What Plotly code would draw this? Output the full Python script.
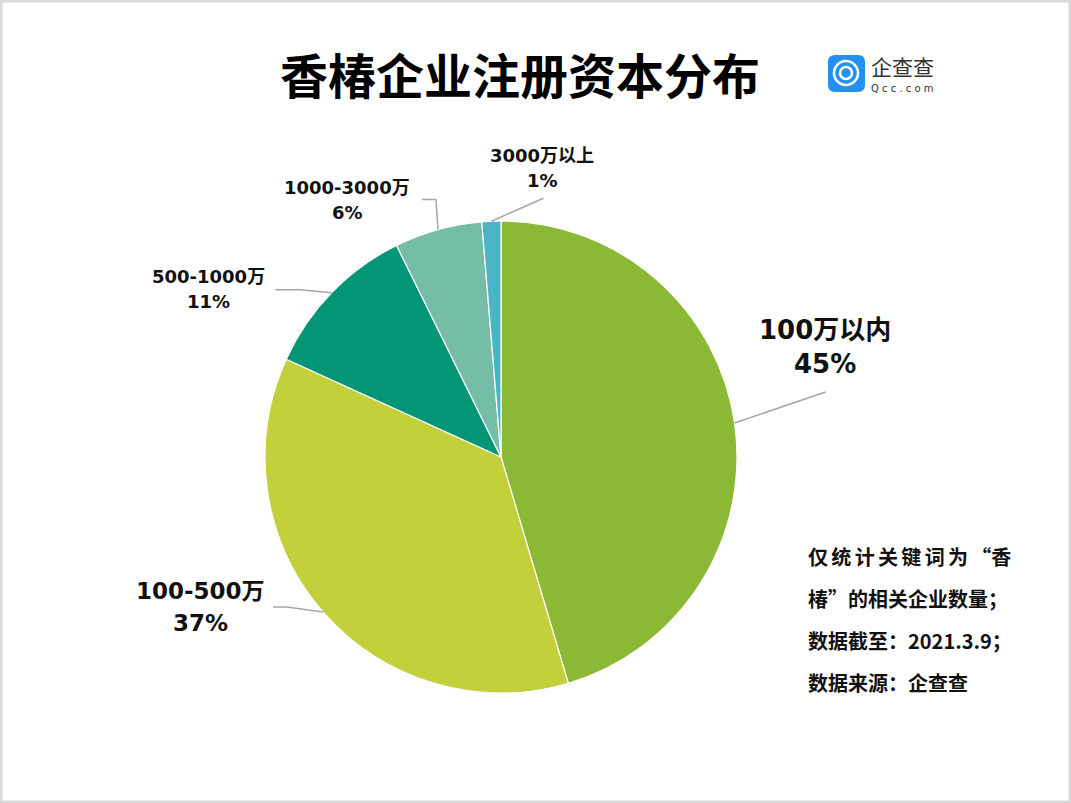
import math
import plotly.graph_objects as go

# ---- data ----
categories = ["100万以内", "100-500万", "500-1000万", "1000-3000万", "3000万以上"]
shares = [45.4, 36.4, 10.9, 6.0, 1.3]
pct_labels = ["45%", "37%", "11%", "6%", "1%"]
colors = ["#8BB835", "#C2D03B", "#039676", "#76BDA7", "#4BB4C6"]

title_text = "香椿企业注册资本分布"
notes = ["仅\u2006统\u2006计\u2006关\u2006键\u2006词\u2006为\u2006“香", "椿”的相关企业数量；", "数据截至：2021.3.9；", "数据来源：企查查"]

W, H = 1071, 803
CX, CY, R = 501, 457, 236

FONT = "Noto Sans CJK SC"
LFONT = "DejaVu Sans, Noto Sans CJK SC"

fig = go.Figure()
fig.add_trace(go.Pie(
    labels=categories, values=shares, sort=False, direction="clockwise", rotation=0,
    marker=dict(colors=colors, line=dict(color="white", width=1.2)),
    textinfo="none", hoverinfo="label+percent", showlegend=False,
    domain=dict(x=[(CX - R) / W, (CX + R) / W], y=[1 - (CY + R) / H, 1 - (CY - R) / H]),
))
# invisible pixel-space axes for annotations/shapes
fig.add_trace(go.Scatter(x=[0, W], y=[0, H], mode="markers", marker=dict(opacity=0),
                         showlegend=False, hoverinfo="skip"))

# label layout: (elbow dx, elbow dy, tail dx, text x, line1 y, line2 y, font size)
label_layout = [
    (91, -31, 0, 825, 330, 364, 26),
    (-36, -5, -14, 200, 591, 623, 23),
    (-31, -3, -25, 208, 276, 301, 18),
    (-2, -30, -14, 347, 187, 212, 18),
    (52, -23, 0, 542, 155, 180, 18),
]

total = sum(shares)
cum = 0
shapes = []
annotations = []
for i, v in enumerate(shares):
    mid = (cum + v / 2) / total * 2 * math.pi
    cum += v
    ex, ey = CX + R * math.sin(mid), CY - R * math.cos(mid)
    edx, edy, tdx, tx, y1, y2, fs = label_layout[i]
    bx, by = ex + edx, ey + edy
    path = f"M {ex:.1f},{ey:.1f} L {bx:.1f},{by:.1f}"
    if tdx:
        path += f" L {bx + tdx:.1f},{by:.1f}"
    shapes.append(dict(type="path", xref="x", yref="y", path=path,
                       line=dict(color="#A6A6A6", width=1.5)))
    for txt, yy in ((categories[i], y1), (pct_labels[i], y2)):
        annotations.append(dict(
            x=tx, y=yy, xref="x", yref="y", showarrow=False,
            text=f"<b>{txt}</b>",
            font=dict(family=LFONT, size=fs, color="#111111"),
            align="center", xanchor="center", yanchor="middle",
        ))

# title
annotations.append(dict(x=520, y=73, xref="x", yref="y", showarrow=False,
                        text=f"<b>{title_text}</b>",
                        font=dict(family=FONT, size=48, color="#000000"),
                        xanchor="center", yanchor="middle"))
# logo
x0, y0, x1, y1, r = 828, 55, 865, 92, 7
shapes.append(dict(type="path", xref="x", yref="y",
                   path=(f"M {x0+r},{y0} L {x1-r},{y0} Q {x1},{y0} {x1},{y0+r} L {x1},{y1-r} "
                         f"Q {x1},{y1} {x1-r},{y1} L {x0+r},{y1} Q {x0},{y1} {x0},{y1-r} "
                         f"L {x0},{y0+r} Q {x0},{y0} {x0+r},{y0} Z"),
                   fillcolor="#2291F2", line=dict(width=0), layer="above"))
shapes.append(dict(type="circle", xref="x", yref="y", x0=834, y0=61, x1=858, y1=85,
                   line=dict(color="white", width=2.5), layer="above"))
shapes.append(dict(type="circle", xref="x", yref="y", x0=840, y0=67, x1=852, y1=79,
                   line=dict(color="white", width=2.5), layer="above"))
annotations.append(dict(x=869, y=66, xref="x", yref="y", showarrow=False, text="企查查",
                        font=dict(family=FONT, size=21, color="#333333"),
                        xanchor="left", yanchor="middle"))
annotations.append(dict(x=869, y=88, xref="x", yref="y", showarrow=False, text="Q c c . c o m",
                        font=dict(family="DejaVu Sans", size=10, color="#333333"),
                        xanchor="left", yanchor="middle"))

# notes
for k, line in enumerate(notes):
    annotations.append(dict(x=806, y=556 + 42 * k, xref="x", yref="y", showarrow=False,
                            text=f"<b>{line}</b>",
                            font=dict(family=FONT, size=20, color="#111111"),
                            xanchor="left", yanchor="middle"))

# border
shapes.append(dict(type="rect", xref="paper", yref="paper", x0=0, y0=0, x1=1, y1=1,
                   line=dict(color="#D9D9D9", width=5), layer="above"))

fig.update_layout(
    width=W, height=H, margin=dict(l=0, r=0, t=0, b=0),
    paper_bgcolor="white", plot_bgcolor="rgba(0,0,0,0)",
    xaxis=dict(range=[0, W], visible=False, fixedrange=True),
    yaxis=dict(range=[H, 0], visible=False, fixedrange=True),
    shapes=shapes, annotations=annotations,
)

fig.write_html("out.html", config={"displayModeBar": False},
               post_script="document.body.style.margin='0px';document.body.style.overflow='hidden';")
